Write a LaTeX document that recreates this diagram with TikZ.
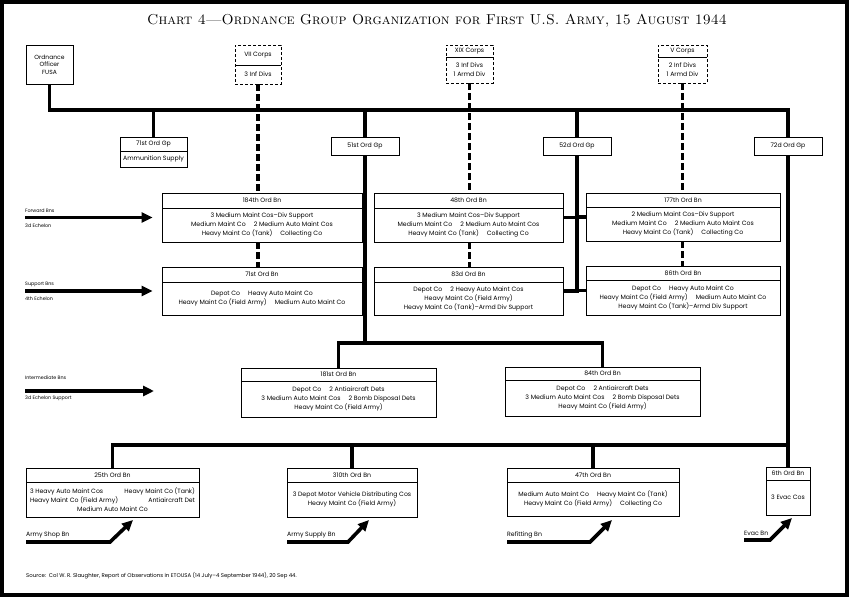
\documentclass[tikz,border=0pt]{standalone}
\usepackage{fontspec}
\newfontfamily\fut{Poppins}
\usetikzlibrary{arrows.meta,fit}
\newcommand\obox[9][]{%
  \node[box,#1,fit={(#3,#4) (#5,#6)}] (#2) {};
  \draw[divl] (#3,#7) -- (#5,#7);
  \node[txt] (#2t) at ({(#3+#5)/2},{(#4+#7)/2}) {#8};
  \node[txt] (#2b) at ({(#3+#5)/2},{(#7+#6)/2}) {#9};
}
\newcommand\gbox[6]{%
  \node[box,fit={(#2,#3) (#4,#5)}] (#1) {};
  \node[txt] (#1t) at (#1.center) {#6};
}
\begin{document}
\begin{tikzpicture}[x=1pt,y=-1pt,
  box/.style={draw, line width=0.8pt, fill=white, inner sep=0pt},
  dbox/.style={dash pattern=on 3pt off 2pt},
  divl/.style={line width=0.8pt},
  txt/.style={font=\fut\fontsize{6.2}{9}\selectfont, align=center, inner sep=0pt},
  otxt/.style={font=\fut\fontsize{6}{7.5}\selectfont, align=center, inner sep=0pt},
  lbl/.style={font=\fut\fontsize{4.8}{5}\selectfont, anchor=west, inner sep=0pt},
  blbl/.style={font=\fut\fontsize{6.2}{6.5}\selectfont, anchor=west, inner sep=0pt},
  conn/.style={line width=3.6pt},
  dconn/.style={line width=3.6pt, dash pattern=on 7pt off 3pt},
  bigarrow/.style={line width=3.6pt, -{Triangle[length=11pt,width=10pt]}},
]
\useasboundingbox (0,0) rectangle (849,597);
\fill[white] (0,0) rectangle (849,597);
\draw[line width=4pt] (2,2) rectangle (847,595);

\node[font=\fontsize{14.4}{16}\selectfont, inner sep=0pt] (title) at (437,21)
  {\textsc{Chart 4—Ordnance Group Organization for First U.S. Army, 15 August 1944}};

% top level
\node[box, fit={(26,45) (73,84)}] (off) {};
\node[otxt] (offt) at (off.center) {Ordnance\\Officer\\FUSA};

\obox[dbox]{c7}{235}{45}{281}{84}{65}{VII Corps}{3 Inf Divs}
\obox[dbox]{c19}{446}{45}{493}{83}{57}{XIX Corps}{3 Inf Divs\\1 Armd Div}
\obox[dbox]{c5}{658}{45}{707}{83}{57}{V Corps}{2 Inf Divs\\1 Armd Div}

% groups
\obox{g71}{120}{137}{187}{167}{151}{71st Ord Gp}{Ammunition Supply}
\gbox{g51}{331}{137}{399}{155}{51st Ord Gp}
\gbox{g52}{543}{137}{611}{155}{52d Ord Gp}
\gbox{g72}{754}{137}{822}{155}{72d Ord Gp}

% forward bns
\obox{b184}{162}{193}{362}{242}{208}{184th Ord Bn}{3 Medium Maint Cos–Div Support\\Medium Maint Co\hspace{1.3em}2 Medium Auto Maint Cos\\Heavy Maint Co (Tank)\hspace{1.3em}Collecting Co}
\obox{b48}{374}{193}{563}{242}{208}{48th Ord Bn}{3 Medium Maint Cos–Div Support\\Medium Maint Co\hspace{1.3em}2 Medium Auto Maint Cos\\Heavy Maint Co (Tank)\hspace{1.3em}Collecting Co}
\obox{b177}{586}{193}{780}{241}{207}{177th Ord Bn}{2 Medium Maint Cos–Div Support\\Medium Maint Co\hspace{1.3em}2 Medium Auto Maint Cos\\Heavy Maint Co (Tank)\hspace{1.3em}Collecting Co}

% support bns
\obox{b71}{162}{267}{362}{315}{282}{71st Ord Bn}{Depot Co\hspace{1.3em}Heavy Auto Maint Co\\Heavy Maint Co (Field Army)\hspace{1.3em}Medium Auto Maint Co}
\obox{b83}{374}{267}{563}{315}{282}{83d Ord Bn}{Depot Co\hspace{1.3em}2 Heavy Auto Maint Cos\\Heavy Maint Co (Field Army)\\Heavy Maint Co (Tank)–Armd Div Support}
\obox{b86}{586}{266}{780}{315}{280}{86th Ord Bn}{Depot Co\hspace{1.3em}Heavy Auto Maint Co\\Heavy Maint Co (Field Army)\hspace{1.3em}Medium Auto Maint Co\\Heavy Maint Co (Tank)–Armd Div Support}

% intermediate
\obox{b181}{241}{368}{436}{417}{381}{181st Ord Bn}{Depot Co\hspace{1.3em}2 Antiaircraft Dets\\3 Medium Auto Maint Cos\hspace{1.3em}2 Bomb Disposal Dets\\Heavy Maint Co (Field Army)}
\obox{b84}{505}{367}{700}{416}{380}{84th Ord Bn}{Depot Co\hspace{1.3em}2 Antiaircraft Dets\\3 Medium Auto Maint Cos\hspace{1.3em}2 Bomb Disposal Dets\\Heavy Maint Co (Field Army)}

% bottom row
\obox{b25}{26}{468}{199}{517}{482}{25th Ord Bn}{\parbox{165pt}{\centering 3 Heavy Auto Maint Cos\hfill Heavy Maint Co (Tank)\\Heavy Maint Co (Field Army)\hfill Antiaircraft Det\\Medium Auto Maint Co}}
\obox{b310}{287}{468}{417}{517}{482}{310th Ord Bn}{3 Depot Motor Vehicle Distributing Cos\\Heavy Maint Co (Field Army)}
\obox{b47}{507}{468}{679}{516}{482}{47th Ord Bn}{Medium Auto Maint Co\hspace{1.3em}Heavy Maint Co (Tank)\\Heavy Maint Co (Field Army)\hspace{1.3em}Collecting Co}
\obox{b6}{766}{467}{810}{515}{480}{6th Ord Bn}{3 Evac Cos}

% solid connectors
\coordinate (busR) at (788,110);
\draw[conn] (off.south) |- (busR) -- (g72.north);
\draw[conn] (g71.north) -- (g71.north |- busR);
\draw[conn] (g51.north) -- (g51.north |- busR);
\draw[conn] (g52.north) -- (g52.north |- busR);

\coordinate (j51) at (365,343);
\draw[conn] (g51.south) -- (j51);
\draw[conn] (b184.east) -- (b184.east -| j51);
\draw[conn] (b71.east) -- (b71.east -| j51);
\draw[conn] (b181.north) -- (b181.north |- j51) -- (b84.north |- j51) -- (b84.north);

\coordinate (j52) at (577,293);
\draw[conn] (g52.south) -- (j52);
\draw[conn] (b48.east) -- (b48.east -| j52);
\draw[conn] (b177.west) -- (b177.west -| j52);
\draw[conn] (b83.east) -- (b83.east -| j52);
\draw[conn] (b86.west) -- (b86.west -| j52);

\coordinate (busB) at (788,445);
\draw[conn] (g72.south) -- (g72.south |- b6.north);
\draw[conn] (b25.north) |- (busB);
\draw[conn] (b310.north) -- (b310.north |- busB);
\draw[conn] (b47.north) -- (b47.north |- busB);

% dashed connectors
\draw[dconn] (c7.south) -- (c7.south |- b184.north);
\draw[dconn] (b184.south -| c7.south) -- (b71.north -| c7.south);
\draw[dconn] (c19.south) -- (c19.south |- b48.north);
\draw[dconn] (b48.south -| c19.south) -- (b83.north -| c19.south);
\draw[dconn] (c5.south) -- (c5.south |- b177.north);
\draw[dconn] (b177.south -| c5.south) -- (b86.north -| c5.south);

% left arrows
\node[lbl] (fwd) at (25,211) {Forward Bns};
\node[lbl] (fwd2) at (25,226) {3d Echelon};
\coordinate (fwdS) at (25,218);
\draw[bigarrow] (b184.west -| fwdS) -- ([xshift=-9pt]b184.west);

\node[lbl] (sup) at (25,284) {Support Bns};
\node[lbl] (sup2) at (25,299) {4th Echelon};
\coordinate (supS) at (25,291);
\draw[bigarrow] (b71.west -| supS) -- ([xshift=-9pt]b71.west);

\node[lbl] (int) at (25,378) {Intermediate Bns};
\node[lbl] (int2) at (25,398) {3d Echelon Support};
\coordinate (intS) at (25,391);
\coordinate (intE) at (154,391);
\draw[bigarrow] (intS) -- (intE);

% bottom arrows
\node[blbl] (shop) at (26,535) {Army Shop Bn};
\coordinate (shopS) at (26,542); \coordinate (shopK) at (110,542); \coordinate (shopE) at (133,520);
\draw[bigarrow] (shopS) -- (shopK) -- (shopE);

\node[blbl] (supl) at (287,535) {Army Supply Bn};
\coordinate (suplS) at (287,542); \coordinate (suplK) at (348,542); \coordinate (suplE) at (369,520);
\draw[bigarrow] (suplS) -- (suplK) -- (suplE);

\node[blbl] (ref) at (507,535) {Refitting Bn};
\coordinate (refS) at (507,542); \coordinate (refK) at (590,542); \coordinate (refE) at (612,520);
\draw[bigarrow] (refS) -- (refK) -- (refE);

\node[blbl] (evac) at (744,533) {Evac Bn};
\coordinate (evacS) at (744,540); \coordinate (evacK) at (770,540); \coordinate (evacE) at (792,518);
\draw[bigarrow] (evacS) -- (evacK) -- (evacE);

\node[font=\fut\fontsize{5.4}{6}\selectfont, anchor=west, inner sep=0pt] (src) at (26,576)
  {Source:\ \ Col W. R. Slaughter, Report of Observations in ETOUSA (14 July–4 September 1944), 20 Sep 44.};
\end{tikzpicture}
\end{document}
